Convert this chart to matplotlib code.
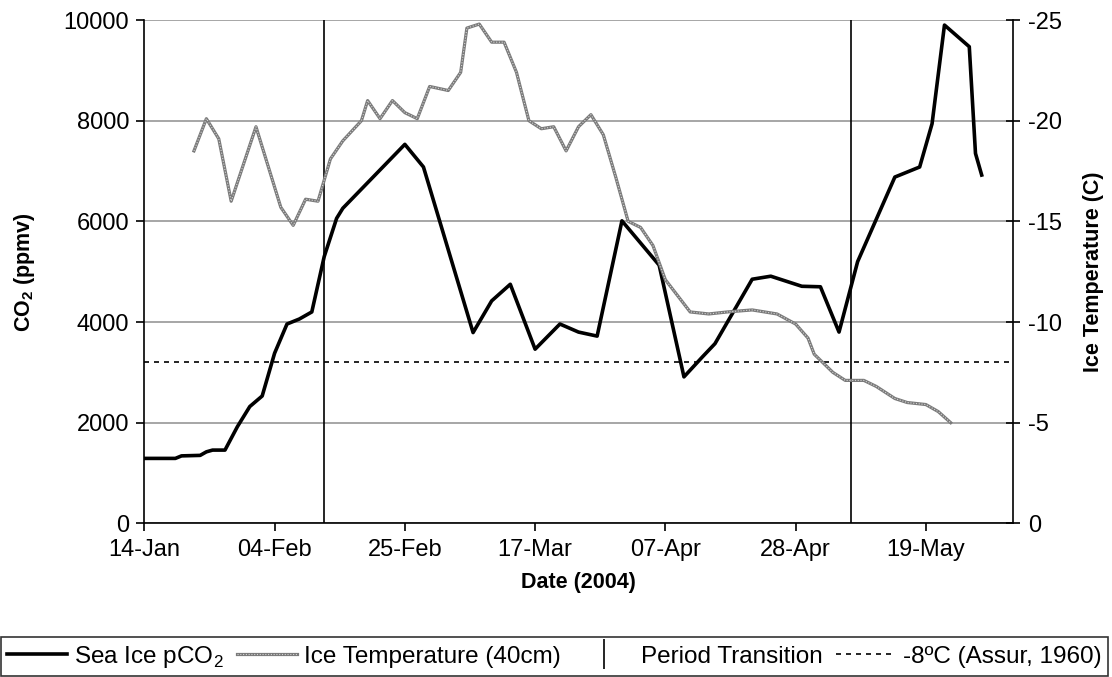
import numpy as np
import matplotlib
matplotlib.use('Agg')
import matplotlib.pyplot as plt
import matplotlib.dates as mdates
from matplotlib.lines import Line2D
from matplotlib.legend_handler import HandlerTuple

plt.rcParams['font.family'] = ['Liberation Sans', 'DejaVu Sans']
plt.rcParams['axes.unicode_minus'] = False
plt.rcParams['mathtext.fontset'] = 'custom'
plt.rcParams['mathtext.rm'] = 'Liberation Sans'
plt.rcParams['mathtext.bf'] = 'Liberation Sans:bold'

# sea ice pCO2 (ppmv)
co2_dates = ['2004-01-14', '2004-01-19', '2004-01-20', '2004-01-23', '2004-01-24',
             '2004-01-25', '2004-01-27', '2004-01-29', '2004-01-31', '2004-02-02',
             '2004-02-04', '2004-02-06', '2004-02-08', '2004-02-10', '2004-02-12',
             '2004-02-14', '2004-02-15', '2004-02-25', '2004-02-28', '2004-03-07',
             '2004-03-10', '2004-03-13', '2004-03-17', '2004-03-21', '2004-03-24',
             '2004-03-27', '2004-03-31', '2004-04-06', '2004-04-10', '2004-04-13',
             '2004-04-15', '2004-04-21', '2004-04-24', '2004-04-29', '2004-05-02',
             '2004-05-05', '2004-05-08', '2004-05-14', '2004-05-18', '2004-05-20',
             '2004-05-22', '2004-05-26', '2004-05-27', '2004-05-28']
co2_ppmv = [1290, 1290, 1340, 1350, 1420,
            1455, 1455, 1920, 2320, 2530,
            3380, 3960, 4060, 4200, 5300,
            6060, 6260, 7530, 7080, 3790,
            4420, 4750, 3460, 3960, 3800,
            3720, 6010, 5130, 2910, 3310,
            3570, 4850, 4910, 4710, 4700,
            3800, 5200, 6880, 7080, 7940,
            9900, 9470, 7350, 6920]

# ice temperature at 40 cm (C)
temp_dates = ['2004-01-22', '2004-01-24', '2004-01-26', '2004-01-28', '2004-02-01',
              '2004-02-05', '2004-02-07', '2004-02-09', '2004-02-11', '2004-02-13',
              '2004-02-15', '2004-02-18', '2004-02-19', '2004-02-21', '2004-02-23',
              '2004-02-25', '2004-02-27', '2004-02-29', '2004-03-03', '2004-03-05',
              '2004-03-06', '2004-03-08', '2004-03-10', '2004-03-12', '2004-03-14',
              '2004-03-16', '2004-03-18', '2004-03-20', '2004-03-22', '2004-03-24',
              '2004-03-26', '2004-03-28', '2004-03-30', '2004-04-01', '2004-04-03',
              '2004-04-05', '2004-04-07', '2004-04-11', '2004-04-14', '2004-04-17',
              '2004-04-21', '2004-04-25', '2004-04-28', '2004-04-30', '2004-05-01',
              '2004-05-04', '2004-05-06', '2004-05-09', '2004-05-11', '2004-05-14',
              '2004-05-16', '2004-05-19', '2004-05-21', '2004-05-23']
temp_c = [-18.5, -20.1, -19.1, -16.0, -19.7,
          -15.7, -14.8, -16.1, -16.0, -18.1,
          -19.0, -20.0, -21.0, -20.1, -21.0,
          -20.4, -20.1, -21.7, -21.5, -22.4,
          -24.6, -24.8, -23.9, -23.9, -22.4,
          -20.0, -19.6, -19.7, -18.5, -19.7,
          -20.3, -19.3, -17.2, -15.0, -14.7,
          -13.8, -12.1, -10.5, -10.4, -10.5,
          -10.6, -10.4, -9.9, -9.2, -8.4,
          -7.5, -7.1, -7.1, -6.8, -6.2,
          -6.0, -5.9, -5.55, -5.0]

transition_dates = ['2004-02-12', '2004-05-07']
assur_temp = -8
x_start, x_end = '2004-01-14', '2004-06-02'
co2_ticks = [0, 2000, 4000, 6000, 8000, 10000]
temp_ticks = [0, -5, -10, -15, -20, -25]

co2_x = np.array(co2_dates, dtype='datetime64[D]')
temp_x = np.array(temp_dates, dtype='datetime64[D]')
t0 = np.datetime64(x_start)
t1 = np.datetime64(x_end)

fig = plt.figure(figsize=(11.12, 6.77), dpi=100)
ax = fig.add_axes([0.1298, 0.2270, 0.7809, 0.7434])
ax2 = ax.twinx()

ax.set_xlim(t0, t1)
ax.set_ylim(0, 10000)
ax.set_yticks(co2_ticks)
ax.yaxis.grid(True, color='#a6a6a6', lw=1.4)
ax.set_axisbelow(True)
ax.set_xticks(np.arange(t0, t1, 21))
ax.xaxis.set_major_formatter(mdates.DateFormatter('%d-%b'))

ax2.set_ylim(0, -25)
ax2.set_yticks(temp_ticks)

for a in (ax, ax2):
    a.spines['top'].set_visible(False)
    for s in a.spines.values():
        s.set_linewidth(1.2)
ax.spines['right'].set_visible(False)
ax2.spines['left'].set_visible(False)
ax2.spines['bottom'].set_visible(False)

ax.tick_params(axis='both', direction='out', length=6, width=1.2, labelsize=17, pad=5)
ax2.tick_params(axis='y', direction='inout', length=10, width=1.2, labelsize=17, pad=6)

for d in transition_dates:
    ax.axvline(np.datetime64(d), color='black', lw=1.2)

ax.plot(co2_x, co2_ppmv, color='black', lw=2.6, zorder=3)
ax2.axhline(assur_temp, color='black', lw=1.2, ls=(0, (3, 3)))
tl1, = ax2.plot(temp_x, temp_c, color='#7a7a7a', lw=2.3)
tl2, = ax2.plot(temp_x, temp_c, color='#d6d6d6', lw=0.8, ls=(0, (1, 1.5)))

fig.text(0.022, 0.598, 'CO$_\\mathbf{2}$ (ppmv)', rotation=90, ha='center', va='center',
         fontsize=15.5, fontweight='bold')
fig.text(0.983, 0.598, 'Ice Temperature (C)', rotation=90, ha='center', va='center',
         fontsize=15.5, fontweight='bold')
fig.text(0.520, 0.140, 'Date (2004)', ha='center', va='center',
         fontsize=15.5, fontweight='bold')

h_co2 = Line2D([], [], color='black', lw=2.6)
h_tr = Line2D([], [], color='black', ls='none', marker='|', markersize=22, markeredgewidth=1.2)
h_as = Line2D([], [], color='black', lw=1.2, ls=(0, (3, 3)))
leg = fig.legend([h_co2, (tl1, tl2), h_tr, h_as],
                 ['Sea Ice pCO$_2$', 'Ice Temperature (40cm)', 'Period Transition',
                  '-8ºC (Assur, 1960)'],
                 handler_map={tuple: HandlerTuple(ndivide=1)},
                 loc='lower center', bbox_to_anchor=(0.4985, 0.002),
                 ncol=4, fontsize=17.5, frameon=True, fancybox=False,
                 edgecolor='black', borderaxespad=0, handlelength=2.45,
                 handletextpad=0.3, columnspacing=0.55, borderpad=0.25)
leg.get_frame().set_linewidth(1.2)

fig.savefig('out.png', dpi=100)
